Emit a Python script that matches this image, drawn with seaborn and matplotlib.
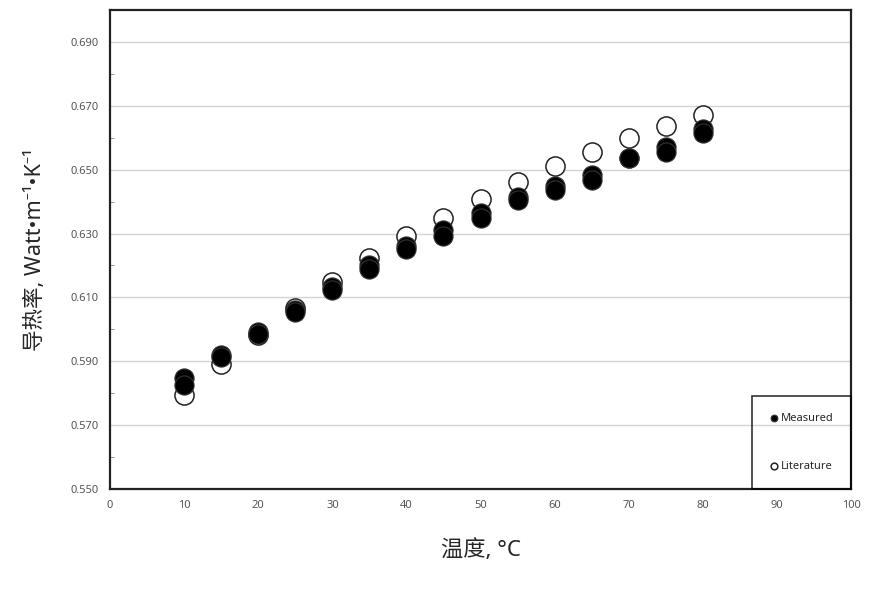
import numpy as np
import pandas as pd
import matplotlib
matplotlib.use("Agg")
import matplotlib.pyplot as plt
import seaborn as sns
from matplotlib.ticker import MultipleLocator, FormatStrFormatter

# measured values (two runs per temperature)
temp_measured = [10, 10, 15, 15, 20, 20, 25, 25, 30, 30, 35, 35, 40, 40, 45, 45,
                 50, 50, 55, 55, 60, 60, 65, 65, 70, 70, 75, 75, 80, 80]
k_measured = [0.5847, 0.5826, 0.5920, 0.5912, 0.5993, 0.5985, 0.6062, 0.6055,
              0.6132, 0.6124, 0.6200, 0.6188, 0.6262, 0.6252, 0.6310, 0.6292,
              0.6364, 0.6348, 0.6415, 0.6405, 0.6450, 0.6436, 0.6484, 0.6468,
              0.6537, 0.6535, 0.6572, 0.6556, 0.6628, 0.6616]

# literature values
temp_lit = [10, 15, 20, 25, 30, 35, 40, 45, 50, 55, 60, 65, 70, 75, 80]
k_lit = [0.5793, 0.5891, 0.5982, 0.6068, 0.6148, 0.6222, 0.6292, 0.6350,
         0.6408, 0.6462, 0.6511, 0.6555, 0.6598, 0.6636, 0.6670]

df_meas = pd.DataFrame({"temp": temp_measured, "k": k_measured})
df_lit = pd.DataFrame({"temp": temp_lit, "k": k_lit})

sns.set_style("white")
plt.rcParams["font.family"] = ["Noto Sans", "Noto Sans CJK SC", "DejaVu Sans"]

fig = plt.figure(figsize=(8.69, 5.94), dpi=100)
ax = fig.add_axes([0.1266, 0.1768, 0.8527, 0.8064])

sns.scatterplot(data=df_lit, x="temp", y="k", ax=ax, s=190, marker="o",
                facecolor="white", edgecolor="#222222", linewidth=1.1,
                label="Literature", zorder=3)
sns.scatterplot(data=df_meas, x="temp", y="k", ax=ax, s=190, marker="o",
                color="black", edgecolor="#333333", linewidth=0.8,
                label="Measured", zorder=4)

ax.set_xlim(0, 100)
ax.set_ylim(0.55, 0.70)
ax.xaxis.set_major_locator(MultipleLocator(10))
ax.yaxis.set_minor_locator(MultipleLocator(0.01))
ax.yaxis.set_major_formatter(FormatStrFormatter("%.3f"))
ax.set_yticks(np.arange(0.55, 0.6951, 0.02))
ax.grid(axis="y", which="major", color="#d4d4d4", linewidth=1.0)
ax.set_axisbelow(True)
ax.tick_params(axis="both", which="major", labelsize=8, labelcolor="#555555",
               length=0)
ax.tick_params(axis="x", which="major", pad=8)
ax.tick_params(axis="y", which="major", pad=8)
ax.tick_params(axis="y", which="minor", direction="in", length=3, color="#888888",
               left=True)

for sp in ax.spines.values():
    sp.set_color("#222222")
    sp.set_linewidth(1.6)

ax.set_xlabel("温度, °C", fontsize=16, labelpad=20)
ax.set_ylabel("导热率, Watt•m⁻¹•K⁻¹", fontsize=15.5, labelpad=18)

handles, labels = ax.get_legend_handles_labels()
order = [labels.index("Measured"), labels.index("Literature")]
leg = ax.legend([handles[i] for i in order], [labels[i] for i in order],
                loc="lower right", bbox_to_anchor=(1.0, 0.0), borderaxespad=0,
                frameon=True, fancybox=False, edgecolor="black", facecolor="none",
                fontsize=8, markerscale=0.35, labelspacing=3.3, borderpad=1.55,
                handletextpad=0.1, handlelength=1.0)
leg.get_frame().set_linewidth(1.2)

fig.savefig("out.png", dpi=100)
